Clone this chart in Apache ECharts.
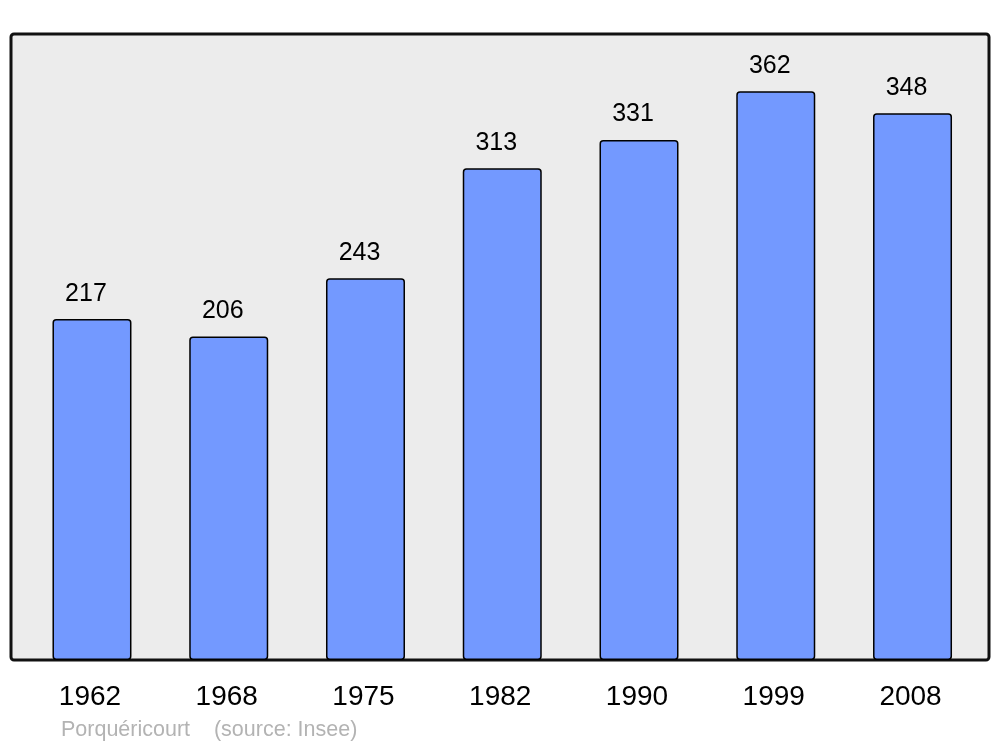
<!DOCTYPE html>
<html>
<head>
<meta charset="utf-8">
<script src="https://cdn.jsdelivr.net/npm/echarts@6/dist/echarts.min.js"></script>
<style>
html,body{margin:0;padding:0;background:#fff;}
#chart{width:1000px;height:747px;}
</style>
</head>
<body>
<div id="chart"></div>
<script>
const categories = ['1962','1968','1975','1982','1990','1999','2008'];
const population = [217,206,243,313,331,362,348];
const sourceText = 'Porquéricourt    (source: Insee)';

const chart = echarts.init(document.getElementById('chart'), null, {renderer:'canvas'});
chart.setOption({
  animation:false,
  backgroundColor:'#ffffff',
  graphic:[
    {type:'rect', z:-10, shape:{x:11, y:34, width:978, height:626, r:3},
     style:{fill:'#ececec', stroke:'#111', lineWidth:3}},
    {type:'text', left:61, top:719, z:10,
     style:{text:sourceText, fill:'#b3b3b3', font:'21.5px "Liberation Sans", Arial, sans-serif'}}
  ],
  grid:{left:23.6, right:19.1, top:34, bottom:87, containLabel:false},
  xAxis:{
    type:'category', data:categories,
    axisLine:{show:false}, axisTick:{show:false},
    axisLabel:{color:'#000', fontSize:28, fontFamily:'"Liberation Sans", Arial, sans-serif', margin:23, padding:[0,4,0,0]}
  },
  yAxis:{
    type:'value', min:0, max:398.5,
    show:false, splitLine:{show:false}
  },
  series:[{
    type:'bar', data:population, barWidth:79,
    itemStyle:{color:'#7399ff', borderColor:'#000', borderWidth:1.5, borderRadius:[3,3,3,3]},
    label:{show:true, position:'top', distance:13, offset:[-6,0], color:'#000', fontSize:25,
      fontFamily:'"Liberation Sans", Arial, sans-serif'}
  }]
});
</script>
</body>
</html>
